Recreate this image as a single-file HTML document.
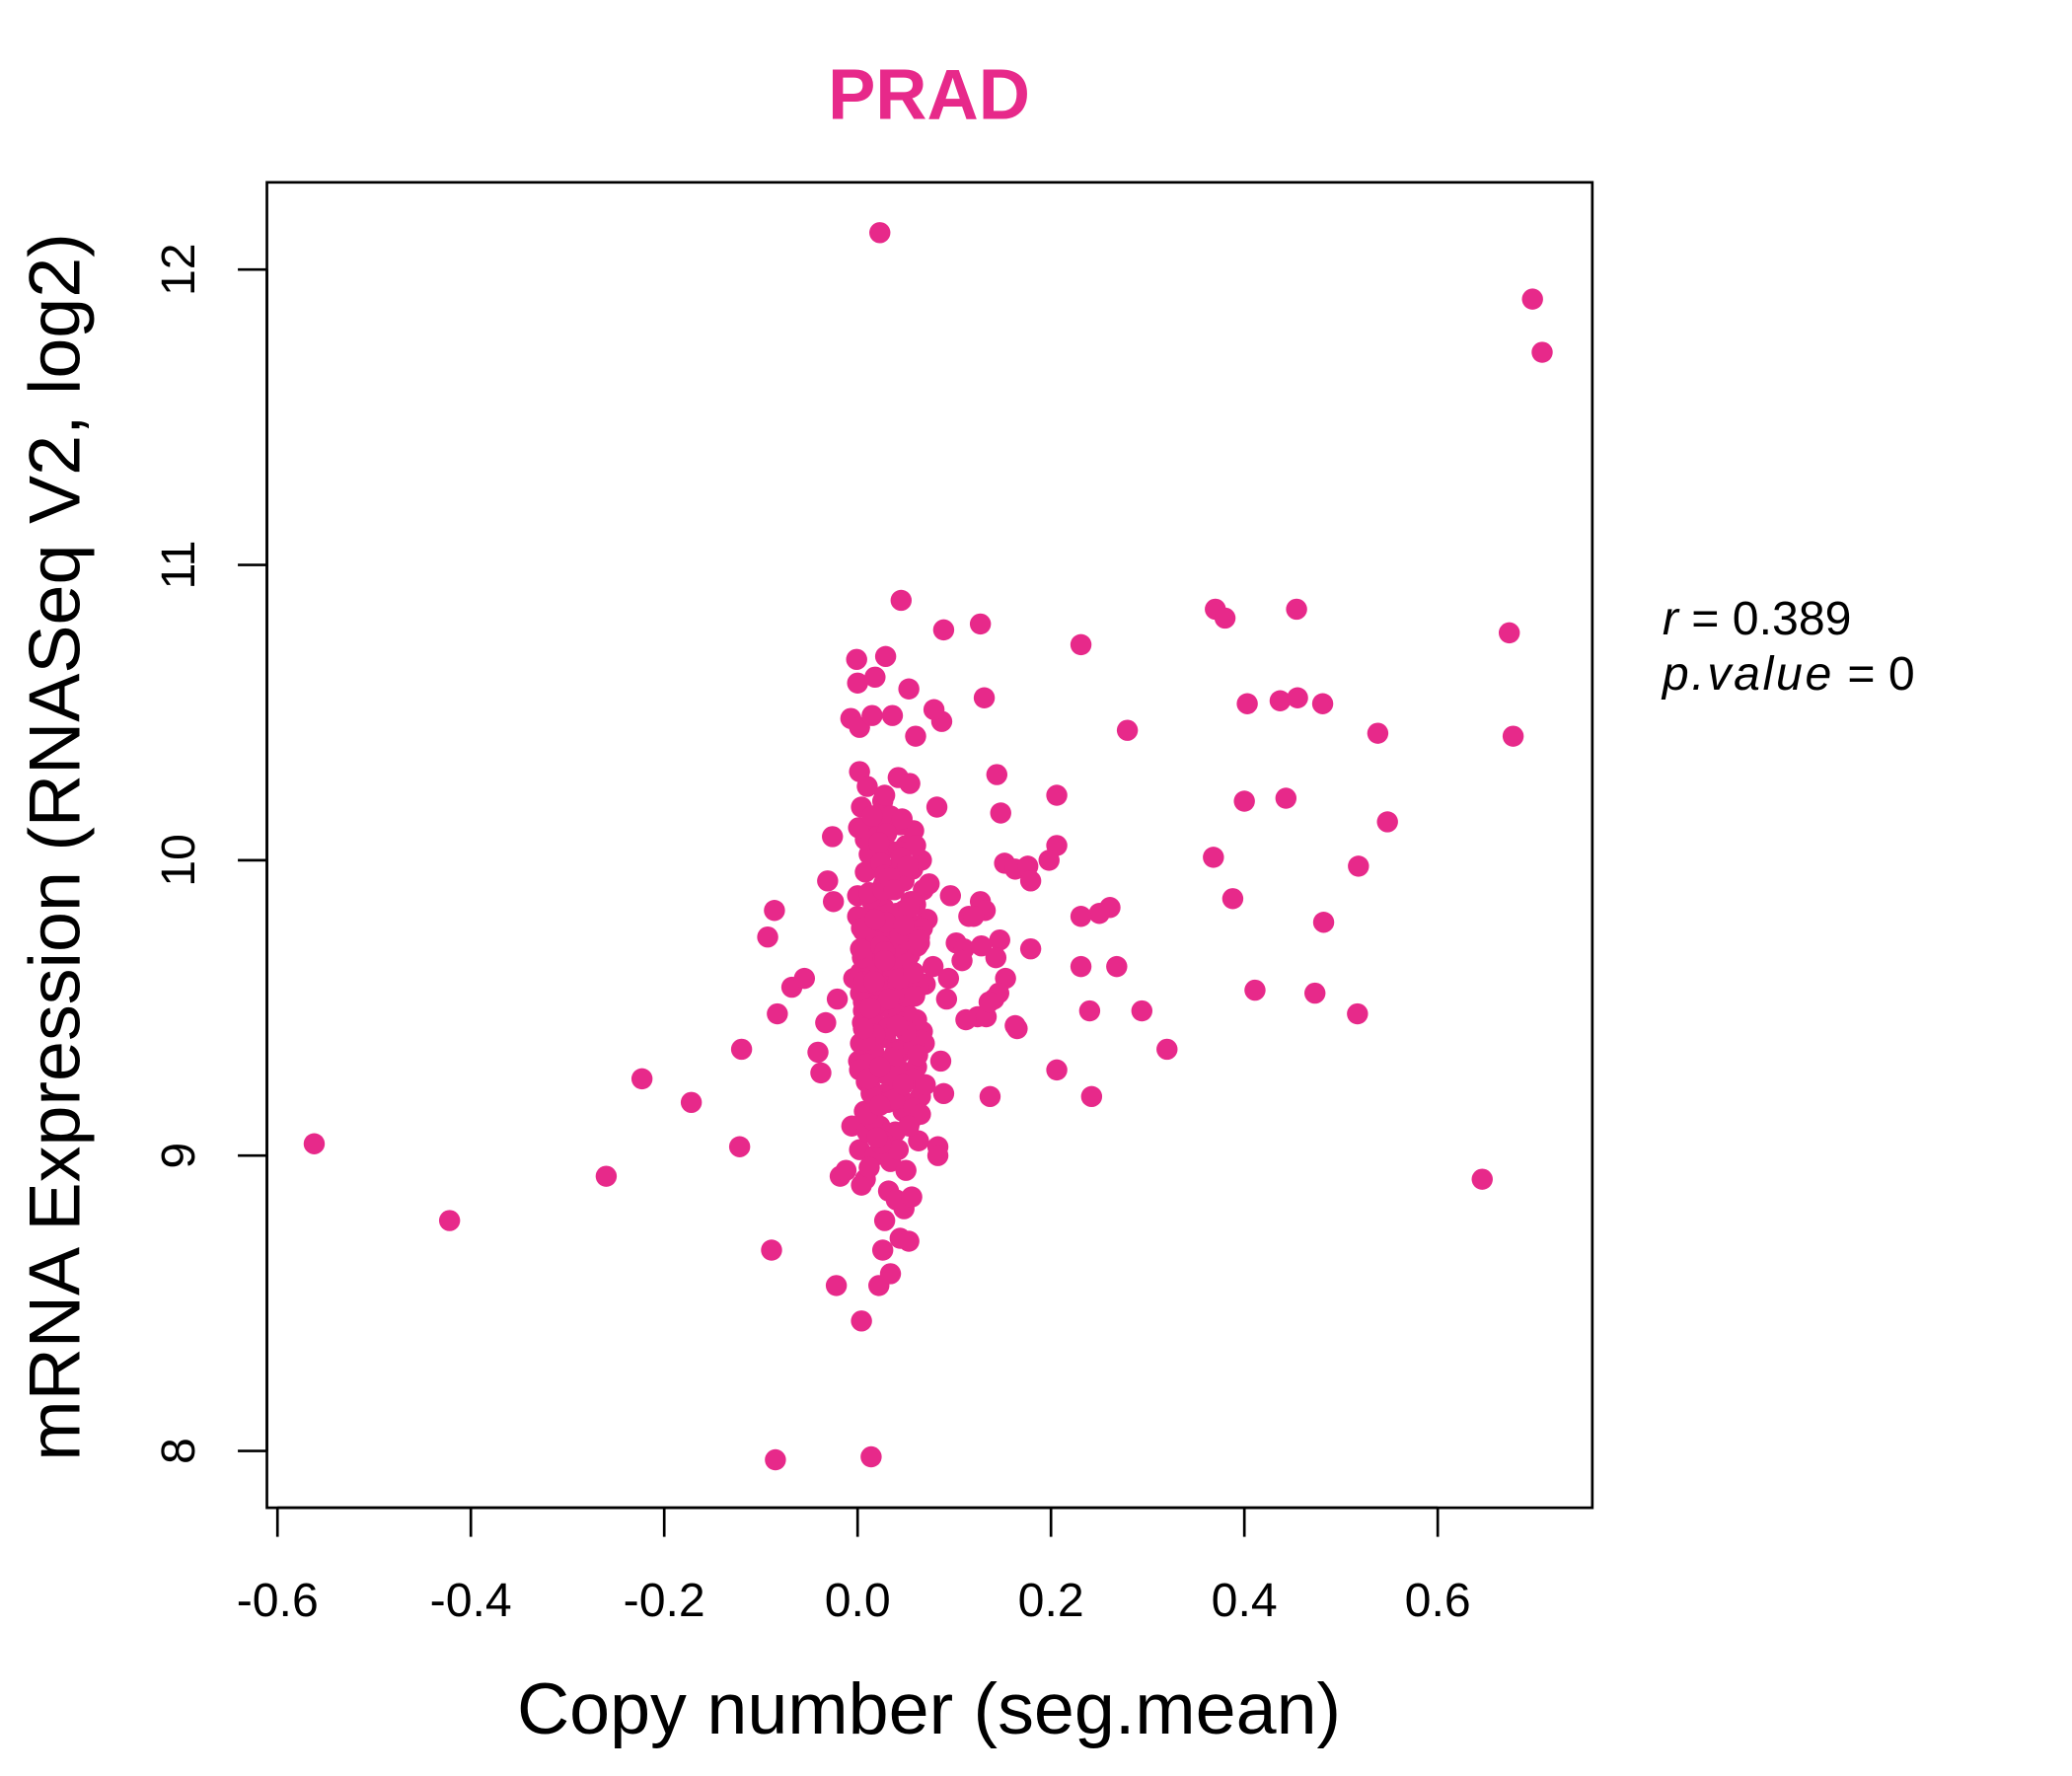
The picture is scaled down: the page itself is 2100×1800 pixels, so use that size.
<!DOCTYPE html>
<html><head><meta charset="utf-8"><style>
html,body{margin:0;padding:0;background:#fff;}
svg{display:block;}
text{font-family:"Liberation Sans",Arial,sans-serif;}
</style></head><body>
<svg id="chart" width="2100" height="1800" viewBox="0 0 1568 1344" preserveAspectRatio="none" xmlns="http://www.w3.org/2000/svg">
<rect x="0" y="0" width="1568" height="1344" fill="#fff"/>
<text x="703" y="90" text-anchor="middle" font-size="54" font-weight="bold" fill="#E7298A">PRAD</text>
<rect x="202" y="138" width="1003" height="1003" fill="none" stroke="#000" stroke-width="2"/>
<g id="xaxis"></g>
<g id="yaxis"></g>
<g id="points"></g>
<text x="703" y="1312" text-anchor="middle" font-size="55">Copy number (seg.mean)</text>
<text transform="translate(60,641) rotate(-90)" text-anchor="middle" font-size="55">mRNA Expression (RNASeq V2, log2)</text>
<text x="1258" y="480" font-size="36"><tspan font-style="italic">r</tspan> = 0.389</text>
<text x="1258" y="522" font-size="36"><tspan font-style="italic" letter-spacing="2">p.value</tspan> = 0</text>
</svg>
<script>
const xTicks = [-0.6,-0.4,-0.2,0.0,0.2,0.4,0.6];
const xTickLabels = ["-0.6","-0.4","-0.2","0.0","0.2","0.4","0.6"];
const yTicks = [8,9,10,11,12];
const yTickLabels = ["8","9","10","11","12"];
const xVals = [0.023,0.698,0.708,0.045,0.089,0.127,0.231,0.370,0.380,0.454,0.674,0.131,0.279,0.403,0.437,0.455,0.481,0.538,0.678,0.144,0.148,0.206,0.400,0.443,0.548,0.206,0.152,0.163,0.176,0.198,0.179,0.368,0.518,0.388,0.261,0.250,0.231,0.482,0.179,0.231,0.268,0.411,0.473,0.240,0.294,0.517,0.165,0.320,0.206,0.242,0.137,0.646,
-0.562,-0.422,-0.260,-0.223,-0.172,-0.120,-0.122,-0.086,-0.093,-0.083,-0.089,-0.085,0.014,0.004,-0.022,0.022,0.034,0.026,0.044,0.053,-0.068,-0.055,-0.041,-0.038,-0.033,-0.026,-0.031,-0.025,-0.021,-0.018,-0.012,
0.082,0.087,0.079,0.053,0.029,-0.001,0.000,0.018,0.060,-0.007,0.002,0.015,0.036,0.083,0.083,0.089,0.086,0.092,0.094,0.102,0.110,0.115,0.127,0.132,0.124,0.147,0.143,0.153,0.163,0.133,0.141,0.112,0.128,0.146,0.136,0.108,0.120,0.096,
0.002,0.010,0.018,0.026,0.034,0.042,0.050,0.058,0.066,0.004,0.012,0.020,0.028,0.036,0.044,0.052,0.060,0.068,0.074,0.000,0.008,0.016,0.024,0.032,0.040,0.048,0.056,0.064,0.072,0.006,0.014,0.022,0.030,0.038,0.046,0.054,0.062,0.070,0.078,-0.004,0.003,0.011,0.019,0.027,0.035,0.043,0.051,0.059,0.067,0.005,0.013,0.021,0.029,0.037,0.045,0.053,0.061,0.069,0.001,0.009,0.017,0.025,0.033,0.041,0.049,0.057,0.065,0.007,0.015,0.023,0.031,0.039,0.047,0.055,0.063,-0.006,0.002,0.010,0.018,0.026,0.034,0.042,0.050,0.058,0.008,0.016,0.024,0.032,0.040,0.048,0.056,0.004,0.012,0.020,0.028,0.036,0.044,0.052,0.060,0.003,0.011,0.019,0.027,0.035,0.043,0.009,0.017,0.025,0.033,0.041,0.049,0.006,0.014,0.022,0.030,0.038,0.046,0.054,0.062,0.070,0.010,0.020,0.030,0.040,0.050,0.012,0.024,0.036,0.048,0.008,0.018,0.028,0.038,
0.001,0.007,0.013,0.019,0.025,0.031,0.037,0.043,0.049,0.055,0.061,0.067,0.003,0.009,0.015,0.021,0.027,0.033,0.039,0.045,0.051,0.057,0.063,0.000,0.006,0.012,0.018,0.024,0.030,0.036,0.042,0.048,0.054,0.060,0.066,0.004,0.010,0.016,0.022,0.028,0.034,0.040,0.046,0.052,0.058,0.064,0.002,0.008,0.014,0.020,0.026,0.032,0.038,0.044,0.050,0.056,0.062,0.005,0.011,0.017,0.023,0.029,0.035,0.041,0.047,0.053,0.059,0.065,0.003,0.013,0.023,0.033,0.043,0.053,0.063,0.008,0.018,0.028,0.038,0.048,0.058,0.006,0.016,0.026,0.036,0.046,0.056,0.071,0.075,0.068,0.073,0.077,0.069];
const yVals = [12.125,11.90,11.72,10.88,10.78,10.80,10.73,10.85,10.82,10.85,10.77,10.55,10.44,10.53,10.54,10.55,10.53,10.43,10.42,10.29,10.16,10.22,10.20,10.21,10.13,10.05,9.99,9.97,9.98,10.00,9.93,10.01,9.98,9.87,9.84,9.82,9.81,9.79,9.70,9.64,9.64,9.56,9.55,9.49,9.49,9.48,9.43,9.36,9.29,9.20,9.20,8.92,
9.04,8.78,8.93,9.26,9.18,9.36,9.03,9.83,9.74,9.48,8.68,7.97,7.98,8.44,8.56,8.56,8.60,8.68,8.72,8.71,9.57,9.60,9.35,9.28,9.45,10.08,9.93,9.86,9.53,8.93,8.95,
10.18,10.47,10.51,10.58,10.69,10.68,10.60,10.62,10.42,10.48,10.45,10.49,10.49,9.03,9.00,9.21,9.32,9.53,9.60,9.72,9.70,9.81,9.86,9.83,9.47,9.73,9.67,9.60,9.44,9.47,9.53,9.46,9.71,9.55,9.52,9.66,9.81,9.88,
10.30,10.25,10.12,10.20,10.15,10.28,10.05,10.10,10.00,10.18,10.02,10.08,10.22,9.95,10.12,9.98,10.05,9.90,9.92,9.88,9.96,9.85,9.90,9.82,9.94,9.78,9.85,9.72,9.80,9.76,9.70,9.80,9.66,9.74,9.62,9.68,9.71,9.58,9.64,9.60,9.55,9.62,9.50,9.58,9.52,9.65,9.48,9.56,9.42,9.45,9.38,9.50,9.40,9.46,9.35,9.44,9.30,9.38,9.32,9.25,9.35,9.28,9.22,9.30,9.18,9.26,9.20,9.15,9.22,9.10,9.18,9.08,9.15,9.12,9.05,9.10,9.02,9.08,9.00,9.05,8.98,9.02,8.95,9.16,8.92,9.12,9.04,8.88,8.85,8.82,8.86,8.90,8.96,9.06,8.78,9.66,9.72,9.58,9.78,9.62,9.54,9.68,9.84,9.76,9.48,9.40,9.57,9.63,9.74,9.36,9.46,9.52,9.41,9.88,10.04,9.97,10.14,10.26,9.34,9.24,9.14,9.44,9.59,9.69,9.79,9.89,9.99,
9.91,9.83,10.07,9.75,9.95,9.67,10.11,9.59,9.87,9.51,9.79,9.43,9.62,10.03,9.54,9.86,9.46,9.77,9.38,9.69,10.15,9.61,9.92,9.73,9.35,10.01,9.65,9.97,9.57,9.81,9.49,9.89,9.41,9.71,10.09,9.33,9.55,9.93,9.47,9.85,9.39,9.77,9.31,9.63,10.06,9.69,9.27,9.82,9.45,9.98,9.37,9.74,9.29,9.66,9.21,9.58,9.90,9.53,9.19,9.75,9.42,9.86,9.34,9.67,9.26,9.59,9.17,9.79,9.64,9.44,9.24,9.84,9.54,9.14,9.70,9.50,9.30,9.94,9.60,9.10,9.73,9.39,9.80,9.66,9.90,9.78,9.62,9.43];
const NS='http://www.w3.org/2000/svg';
const X0=649, XS=731.7, Y0=204, YS=223.5;
function sx(v){return X0+v*XS;}
function sy(v){return Y0+(12-v)*YS;}
function mk(tag,attrs,parent){const e=document.createElementNS(NS,tag);for(const k in attrs)e.setAttribute(k,attrs[k]);parent.appendChild(e);return e;}
const xg=document.getElementById('xaxis'), yg=document.getElementById('yaxis'), pg=document.getElementById('points');
const xl=mk('line',{x1:sx(xTicks[0]),x2:sx(xTicks[xTicks.length-1]),y1:1141,y2:1141,stroke:'#000','stroke-width':2},xg);


xTicks.forEach((t,i)=>{
  const tk=mk('line',{x1:sx(t),x2:sx(t),y1:1141,y2:1163,stroke:'#000','stroke-width':2},xg);
  
  
  const tl=mk('text',{x:sx(t),y:1223,'text-anchor':'middle','font-size':36},xg);
  tl.textContent=xTickLabels[i];
  
  
});
const yl=mk('line',{x1:202,x2:202,y1:sy(yTicks[0]),y2:sy(yTicks[yTicks.length-1]),stroke:'#000','stroke-width':2},yg);


yTicks.forEach((t,i)=>{
  const tk=mk('line',{x1:180,x2:202,y1:sy(t),y2:sy(t),stroke:'#000','stroke-width':2},yg);
  
  
  const tl=mk('text',{transform:'translate(147,'+sy(t)+') rotate(-90)','text-anchor':'middle','font-size':36},yg);
  tl.textContent=yTickLabels[i];
  
  
});
const n=Math.min(xVals.length,yVals.length);
for(let i=0;i<n;i++){
  const c=mk('circle',{cx:sx(xVals[i]),cy:sy(yVals[i]),r:8,fill:'#E7298A'},pg);
  
  
}
</script>
</body></html>
